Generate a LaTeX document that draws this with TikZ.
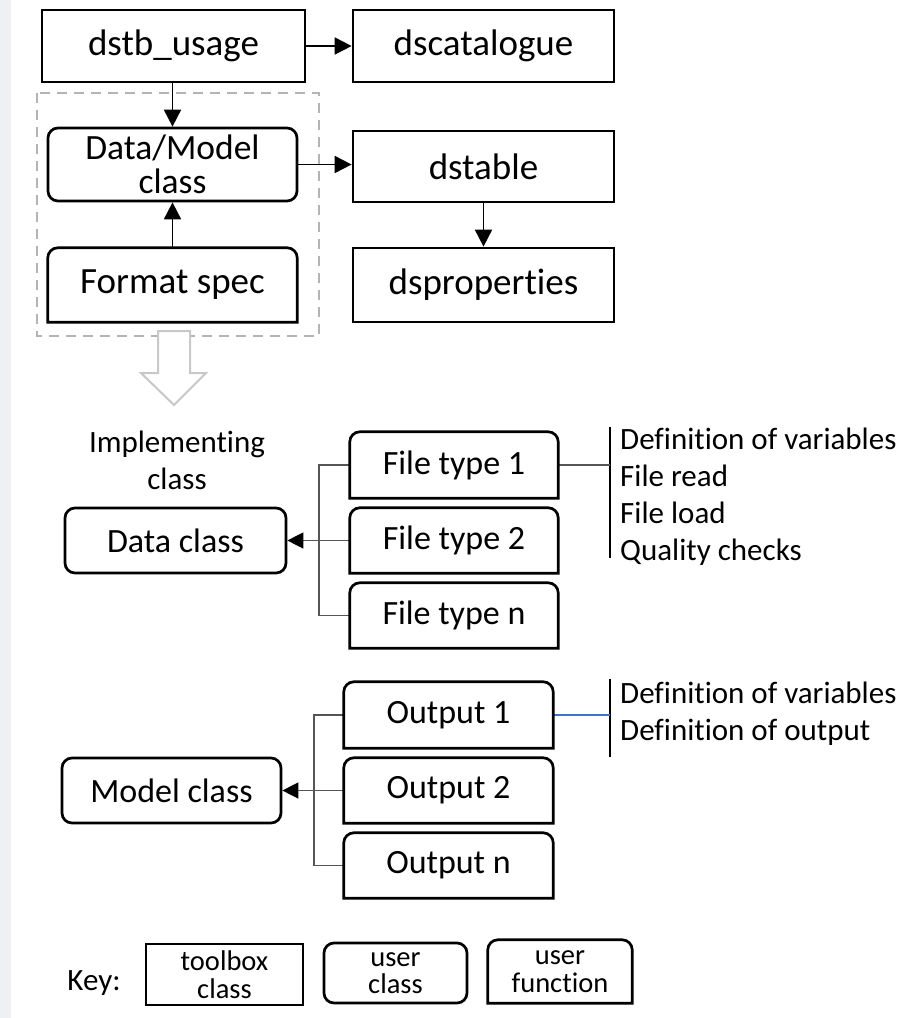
\documentclass[tikz,border=0pt]{standalone}
\usepackage{fontspec}
\setmainfont{Carlito}[Ligatures=NoCommon]
\usetikzlibrary{arrows.meta}
\definecolor{strip}{HTML}{EEF0F3}
\definecolor{dashgray}{HTML}{B4B4B4}
\definecolor{hollow}{HTML}{C8C8C8}
\definecolor{treegray}{HTML}{555555}
\definecolor{linkblue}{HTML}{4472C4}
\newcommand\ftop{\fontsize{37}{31}\selectfont}
\newcommand\fdm{\fontsize{35.5}{34}\selectfont}
\newcommand\fmid{\fontsize{34}{34}\selectfont}
\newcommand\fside{\fontsize{31}{37}\selectfont}
\newcommand\fkey{\fontsize{28.5}{27.5}\selectfont}
\begin{document}
\begin{tikzpicture}[x=1pt,y=-1pt,
  tbox/.style={draw=black, line width=2.7pt, inner sep=0pt, align=center},
  ubox/.style={tbox, rounded corners=10pt},
  fshape/.style={inner sep=0pt, align=center},
  fline/.style={draw=black, line width=2.7pt},
  arr/.style={draw=black, line width=1.8pt, -{Triangle[length=17pt,width=17pt]}},
  tree/.style={draw=treegray, line width=1.4pt},
  treearr/.style={tree, -{Triangle[length=16pt,width=16pt,color=black,fill=black]}},
  bar/.style={draw=black, line width=2.4pt},
]
\useasboundingbox (0,0) rectangle (910,1018);
\fill[strip] (0,0) rectangle (11,1018);

% dashed group frame
\draw[dashgray, line width=2pt, dash pattern=on 10pt off 7pt] (37,93) rectangle (319,336);
% hollow arrow
\draw[hollow, line width=2pt, fill=white] (158,331) -- (190,331) -- (190,373) -- (206,373) -- (174,405) -- (141,373) -- (158,373) -- cycle;

% top section
\node[tbox, minimum width=263pt, minimum height=72pt, font=\ftop] (dstb) at (173.5,46) {dstb\_usage};
\node[tbox, minimum width=261pt, minimum height=72pt, font=\ftop] (dscat) at (483.5,46) {dscatalogue};
\node[ubox, minimum width=249pt, minimum height=73pt, font=\fdm] (dm) at (172.5,164.5) {Data/Model\\class};
\node[tbox, minimum width=261pt, minimum height=71pt, font=\ftop] (dstable) at (483.5,166.5) {dstable};
\node[fshape, minimum width=249pt, minimum height=74pt, font=\ftop] (fmt) at (172.5,285) {Format spec};
\node[tbox, minimum width=261pt, minimum height=74pt, font=\ftop] (dsprop) at (483.5,285) {dsproperties};

\draw[arr] (dstb) -- (dscat);
\draw[arr] (dm.north |- dstb.south) -- (dm.north);
\draw[arr] (fmt.north) -- (dm.south);
\draw[arr] (dm.east) -- (dm.east -| dstable.west);
\draw[arr] (dstable.south) -- (dsprop.north);

% data class section
\node[font=\fside, align=center] (impl) at (177,460) {Implementing\\class};
\node[ubox, minimum width=221pt, minimum height=65pt, font=\fmid] (dc) at (175.5,540.5) {Data class};
\node[fshape, minimum width=208pt, minimum height=66pt, font=\fmid] (ft1) at (454,465) {File type 1};
\node[fshape, minimum width=208pt, minimum height=65pt, font=\fmid] (ft2) at (454,540.5) {File type 2};
\node[fshape, minimum width=208pt, minimum height=65pt, font=\fmid] (ftn) at (454,615.5) {File type n};
\coordinate (j1) at (319,540.5);
\draw[tree] (ft1.west) -| (j1) |- (ftn.west);
\draw[treearr] (ft2.west) -- (dc.east);
\coordinate (b1t) at (610,427);
\coordinate (b1b) at (610,558);
\draw[bar] (b1t) -- (b1b);
\draw[tree] (ft1.east) -- (ft1.east -| b1t);
\node[font=\fside, align=left, anchor=west, inner sep=0pt] (txt1) at (620,497) {Definition of variables\\File read\\File load\\Quality checks};

% model class section
\node[ubox, minimum width=219pt, minimum height=65pt, font=\fmid] (mc) at (171.5,790.5) {Model class};
\node[fshape, minimum width=209pt, minimum height=66pt, font=\fmid] (o1) at (448.5,715) {Output 1};
\node[fshape, minimum width=209pt, minimum height=65pt, font=\fmid] (o2) at (448.5,790.5) {Output 2};
\node[fshape, minimum width=209pt, minimum height=65pt, font=\fmid] (on) at (448.5,865.5) {Output n};
\coordinate (j2) at (314,790.5);
\draw[tree] (o1.west) -| (j2) |- (on.west);
\draw[treearr] (o2.west) -- (mc.east);
\coordinate (b2t) at (610,679);
\coordinate (b2b) at (610,757);
\draw[bar] (b2t) -- (b2b);
\draw[draw=linkblue, line width=1.4pt] (o1.east) -- (o1.east -| b2t);
\node[font=\fside, align=left, anchor=west, inner sep=0pt] (txt2) at (620,714) {Definition of variables\\Definition of output};

% key
\node[font=\fside] (keylbl) at (94,983) {Key:};
\node[tbox, minimum width=157pt, minimum height=61pt, font=\fkey] (ktb) at (224.5,974.5) {toolbox\\class};
\node[ubox, minimum width=143pt, minimum height=60pt, font=\fkey] (kuc) at (395.5,973) {user\\class};
\node[fshape, minimum width=144pt, minimum height=63pt, font=\fkey] (kuf) at (560,971.5) {user\\function};

% boxes with rounded top corners only
\foreach \n in {fmt,ft1,ft2,ftn,o1,o2,on,kuf} {
  \draw[fline] (\n.south west) -- ([yshift=-10pt]\n.north west)
    arc[start angle=180,end angle=90,radius=10pt]
    -- ([xshift=-10pt]\n.north east)
    arc[start angle=90,end angle=0,radius=10pt]
    -- (\n.south east) -- cycle;
}
\end{tikzpicture}
\end{document}
